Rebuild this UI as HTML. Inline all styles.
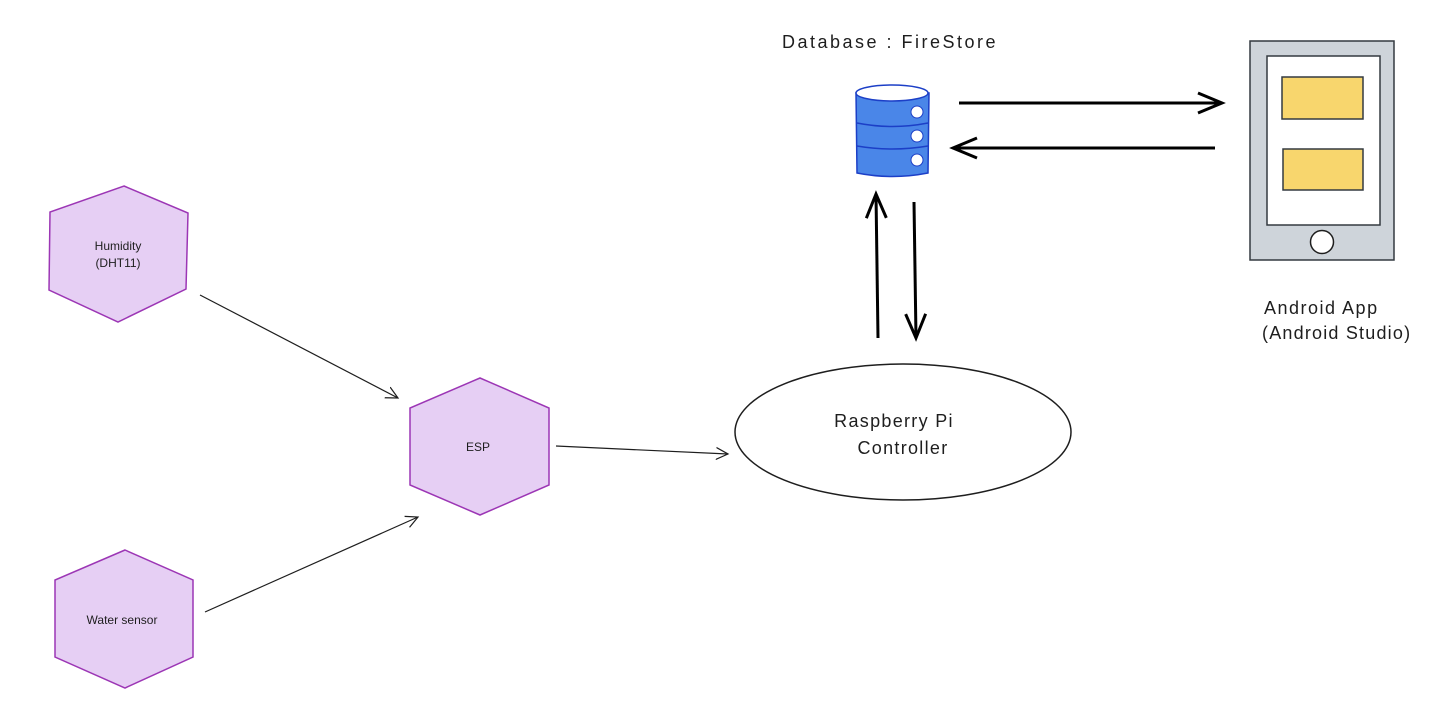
<!DOCTYPE html>
<html><head><meta charset="utf-8"><style>
body{margin:0;background:#fff;}
svg{display:block}
text{font-family:"Liberation Sans",sans-serif;fill:#1e1e1e}
</style></head><body>
<svg width="1454" height="705" viewBox="0 0 1454 705" xmlns="http://www.w3.org/2000/svg">
<defs>
<marker id="a" markerWidth="14" markerHeight="14" refX="12" refY="7" orient="auto" markerUnits="userSpaceOnUse">
<path d="M0,1 L12,7 L0,13" fill="none" stroke="#1e1e1e" stroke-width="1.2"/></marker>
<marker id="b" markerWidth="30" markerHeight="24" refX="26" refY="12" orient="auto" markerUnits="userSpaceOnUse">
<path d="M2,2 L26,12 L2,22" fill="none" stroke="#000" stroke-width="3"/></marker>
</defs>
<polygon points="124,186 188,213 186,289 118,322 49,290 50,212" fill="#e6cff4" stroke="#9c36b5" stroke-width="1.5"/>
<text x="118" y="250" font-size="12" text-anchor="middle">Humidity</text>
<text x="118" y="267" font-size="12" text-anchor="middle">(DHT11)</text>
<polygon points="480,378 549,408 549,485 480,515 410,485 410,408" fill="#e6cff4" stroke="#9c36b5" stroke-width="1.5"/>
<text x="478" y="451" font-size="12" text-anchor="middle">ESP</text>
<polygon points="125,550 193,580 193,657 125,688 55,657 55,580" fill="#e6cff4" stroke="#9c36b5" stroke-width="1.5"/>
<text x="122" y="624" font-size="12" text-anchor="middle">Water sensor</text>
<line x1="200" y1="295" x2="398" y2="398" stroke="#1e1e1e" stroke-width="1.2" marker-end="url(#a)"/>
<line x1="205" y1="612" x2="418" y2="517" stroke="#1e1e1e" stroke-width="1.2" marker-end="url(#a)"/>
<line x1="556" y1="446" x2="728" y2="454" stroke="#1e1e1e" stroke-width="1.2" marker-end="url(#a)"/>
<ellipse cx="903" cy="432" rx="168" ry="68" fill="#fff" stroke="#1e1e1e" stroke-width="1.5"/>
<text x="894" y="427" font-size="18" text-anchor="middle" letter-spacing="1.3">Raspberry Pi</text>
<text x="903" y="454" font-size="18" text-anchor="middle" letter-spacing="1.3">Controller</text>
<line x1="878" y1="338" x2="876" y2="194" stroke="#000" stroke-width="3" marker-end="url(#b)"/>
<line x1="914" y1="202" x2="916" y2="338" stroke="#000" stroke-width="3" marker-end="url(#b)"/>
<line x1="959" y1="103" x2="1222" y2="103" stroke="#000" stroke-width="3" marker-end="url(#b)"/>
<line x1="1215" y1="148" x2="953" y2="148" stroke="#000" stroke-width="3" marker-end="url(#b)"/>
<text x="890" y="48" font-size="18" text-anchor="middle" letter-spacing="2.5">Database : FireStore</text>
<path d="M856,93 L857,173 Q892,180 928,173 L929,93 Z" fill="#4a86e8" stroke="#1c3fc7" stroke-width="1.5"/>
<ellipse cx="892" cy="93" rx="36" ry="8" fill="#fff" stroke="#1c3fc7" stroke-width="1.5"/>
<path d="M857,123 Q892,130 928,123 M857,146 Q892,152 928,146" fill="none" stroke="#1c3fc7" stroke-width="1.5"/>
<circle cx="917" cy="112" r="6" fill="#fff" stroke="#1c3fc7"/>
<circle cx="917" cy="136" r="6" fill="#fff" stroke="#1c3fc7"/>
<circle cx="917" cy="160" r="6" fill="#fff" stroke="#1c3fc7"/>
<rect x="1250" y="41" width="144" height="219" fill="#ced4da" stroke="#343a40" stroke-width="1.5"/>
<rect x="1267" y="56" width="113" height="169" fill="#fff" stroke="#343a40" stroke-width="1.5"/>
<rect x="1282" y="77" width="81" height="42" fill="#f8d66d" stroke="#343a40" stroke-width="1.5"/>
<rect x="1283" y="149" width="80" height="41" fill="#f8d66d" stroke="#343a40" stroke-width="1.5"/>
<circle cx="1322" cy="242" r="11.5" fill="#fff" stroke="#1e1e1e" stroke-width="1.5"/>
<text x="1264" y="314" font-size="18" letter-spacing="1.5">Android App</text>
<text x="1262" y="339" font-size="18" letter-spacing="1.2">(Android Studio)</text>
</svg>
</body></html>
